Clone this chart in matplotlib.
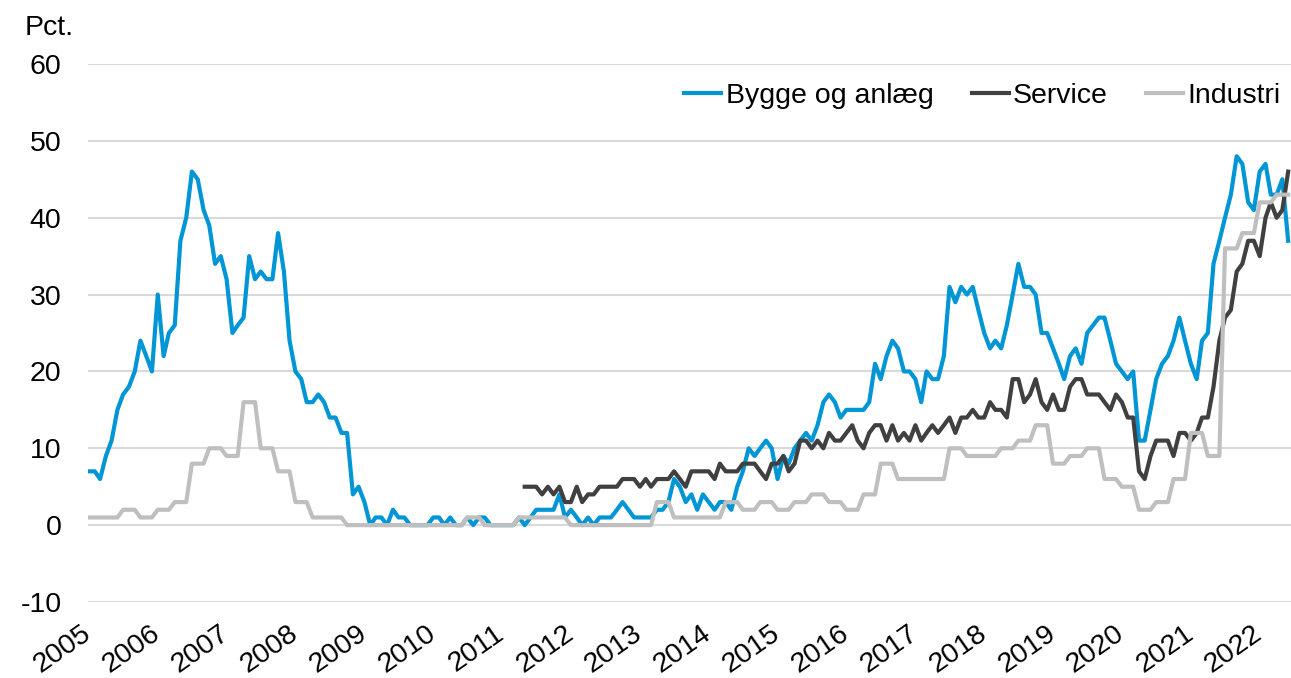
import matplotlib
matplotlib.use("Agg")
import matplotlib.pyplot as plt
import matplotlib.dates as mdates
import pandas as pd

plt.rcParams['font.family'] = ['Liberation Sans', 'DejaVu Sans']
plt.rcParams['axes.unicode_minus'] = False

# monthly, Jan 2005 - Jun 2022
months = pd.date_range('2005-01-01', '2022-06-01', freq='MS')
service_months = pd.date_range('2011-05-01', '2022-06-01', freq='MS')

bygge = [
    7, 7, 6, 9, 11, 15, 17, 18, 20, 24,
    22, 20, 30, 22, 25, 26, 37, 40, 46, 45,
    41, 39, 34, 35, 32, 25, 26, 27, 35, 32,
    33, 32, 32, 38, 33, 24, 20, 19, 16, 16,
    17, 16, 14, 14, 12, 12, 4, 5, 3, 0,
    1, 1, 0, 2, 1, 1, 0, 0, 0, 0,
    1, 1, 0, 1, 0, 0, 1, 0, 1, 1,
    0, 0, 0, 0, 0, 1, 0, 1, 2, 2,
    2, 2, 4, 1, 2, 1, 0, 1, 0, 1,
    1, 1, 2, 3, 2, 1, 1, 1, 1, 2,
    2, 3, 6, 5, 3, 4, 2, 4, 3, 2,
    3, 3, 2, 5, 7, 10, 9, 10, 11, 10,
    6, 9, 8, 10, 11, 12, 11, 13, 16, 17,
    16, 14, 15, 15, 15, 15, 16, 21, 19, 22,
    24, 23, 20, 20, 19, 16, 20, 19, 19, 22,
    31, 29, 31, 30, 31, 28, 25, 23, 24, 23,
    26, 30, 34, 31, 31, 30, 25, 25, 23, 21,
    19, 22, 23, 21, 25, 26, 27, 27, 24, 21,
    20, 19, 20, 11, 11, 15, 19, 21, 22, 24,
    27, 24, 21, 19, 24, 25, 34, 37, 40, 43,
    48, 47, 42, 41, 46, 47, 43, 43, 45, 37,
]

# Service series starts May 2011
service = [
    5, 5, 5, 4,
    5, 4, 5, 3, 3, 5, 3, 4, 4, 5,
    5, 5, 5, 6, 6, 6, 5, 6, 5, 6,
    6, 6, 7, 6, 5, 7, 7, 7, 7, 6,
    8, 7, 7, 7, 8, 8, 8, 7, 6, 8,
    8, 9, 7, 8, 11, 11, 10, 11, 10, 12,
    11, 11, 12, 13, 11, 10, 12, 13, 13, 11,
    13, 11, 12, 11, 13, 11, 12, 13, 12, 13,
    14, 12, 14, 14, 15, 14, 14, 16, 15, 15,
    14, 19, 19, 16, 17, 19, 16, 15, 17, 15,
    15, 18, 19, 19, 17, 17, 17, 16, 15, 17,
    16, 14, 14, 7, 6, 9, 11, 11, 11, 9,
    12, 12, 11, 12, 14, 14, 18, 24, 27, 28,
    33, 34, 37, 37, 35, 40, 42, 40, 41, 46,
]

# one row per year
industri = [
    1, 1, 1, 1, 1, 1, 2, 2, 2, 1, 1, 1,
    2, 2, 2, 3, 3, 3, 8, 8, 8, 10, 10, 10,
    9, 9, 9, 16, 16, 16, 10, 10, 10, 7, 7, 7,
    3, 3, 3, 1, 1, 1, 1, 1, 1, 0, 0, 0,
    0, 0, 0, 0, 0, 0, 0, 0, 0, 0, 0, 0,
    0, 0, 0, 0, 0, 0, 1, 1, 1, 0, 0, 0,
    0, 0, 0, 1, 1, 1, 1, 1, 1, 1, 1, 1,
    0, 0, 0, 0, 0, 0, 0, 0, 0, 0, 0, 0,
    0, 0, 0, 3, 3, 3, 1, 1, 1, 1, 1, 1,
    1, 1, 1, 3, 3, 3, 2, 2, 2, 3, 3, 3,
    2, 2, 2, 3, 3, 3, 4, 4, 4, 3, 3, 3,
    2, 2, 2, 4, 4, 4, 8, 8, 8, 6, 6, 6,
    6, 6, 6, 6, 6, 6, 10, 10, 10, 9, 9, 9,
    9, 9, 9, 10, 10, 10, 11, 11, 11, 13, 13, 13,
    8, 8, 8, 9, 9, 9, 10, 10, 10, 6, 6, 6,
    5, 5, 5, 2, 2, 2, 3, 3, 3, 6, 6, 6,
    12, 12, 12, 9, 9, 9, 36, 36, 36, 38, 38, 38,
    42, 42, 42, 43, 43, 43,
]

fs = 20.5
fig = plt.figure(figsize=(12.91, 6.78), dpi=100)
ax = fig.add_axes([88 / 1291, 76 / 678, 1203 / 1291, 538 / 678])

ax.plot(months, bygge, color='#0096D6', lw=3, label='Bygge og anlæg', zorder=3)
ax.plot(service_months, service, color='#404040', lw=3, label='Service', zorder=4)
ax.plot(months, industri, color='#BFBFBF', lw=3, label='Industri', zorder=5)

ax.set_ylim(-10, 60)
ax.set_yticks(range(-10, 61, 10))
ax.set_xlim(pd.Timestamp('2004-12-27'), pd.Timestamp('2022-06-16'))
ax.xaxis.set_major_locator(mdates.YearLocator())
ax.xaxis.set_major_formatter(mdates.DateFormatter('%Y'))

ax.grid(axis='y', color='#D9D9D9', lw=1.5, zorder=0)
for s in ax.spines.values():
    s.set_visible(False)
ax.tick_params(axis='y', length=0, pad=19, labelsize=fs)
ax.tick_params(axis='x', length=0, pad=21, labelsize=fs, labelrotation=35)
plt.setp(ax.get_xticklabels(), ha='right', va='center', rotation_mode='anchor')

fig.text(25 / 1291, 1 - 35 / 678, 'Pct.', fontsize=fs, va='baseline')

ax.legend(loc='center right', bbox_to_anchor=(1295 / 1291, 1 - 96 / 678),
          bbox_transform=fig.transFigure, ncol=3, frameon=False, fontsize=fs,
          borderpad=0, handlelength=1.3, handletextpad=0.15, columnspacing=1.35)

fig.savefig('out.png', dpi=100)
